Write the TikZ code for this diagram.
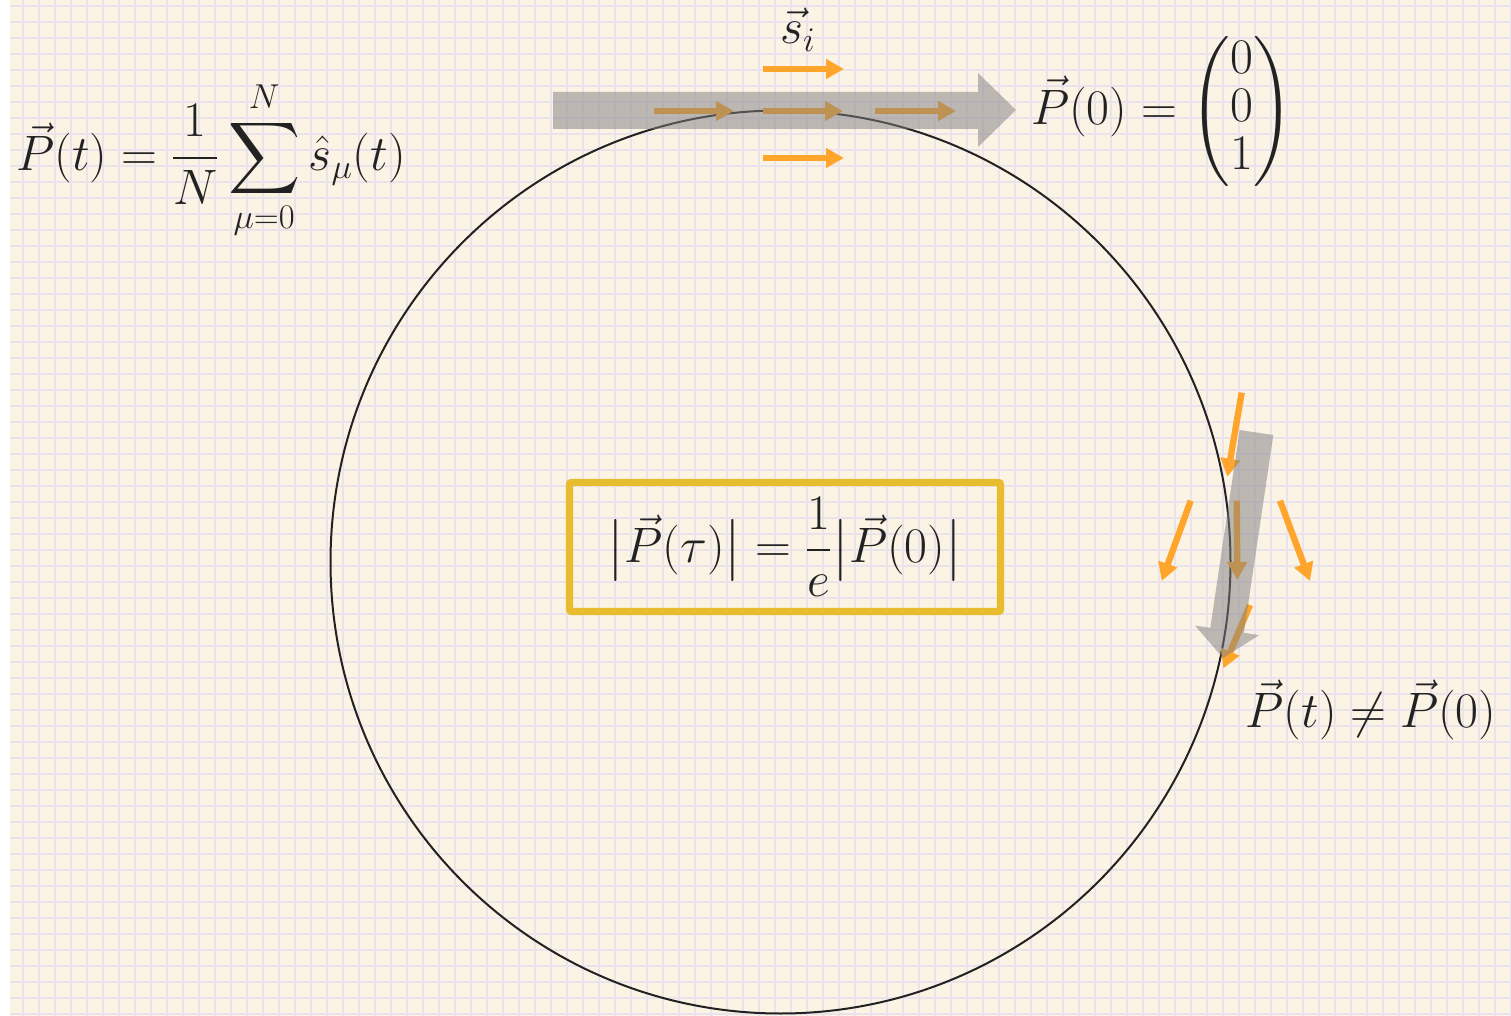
\documentclass[tikz,border=0pt]{standalone}
\usepackage{amsmath,amssymb}
\usepackage{xcolor}
\usepackage{tikz}
\usetikzlibrary{arrows.meta}
\definecolor{paper}{HTML}{FBF3E4}
\definecolor{gridline}{HTML}{EAE3EC}
\definecolor{ink}{HTML}{222222}
\definecolor{spin}{HTML}{FFA52C}
\definecolor{shade}{HTML}{7F7F7F}
\definecolor{boxline}{HTML}{E8BC2F}
\tikzset{
  spinvec/.style={-{Triangle[length=9pt,width=9.5pt]},line width=3.2pt,color=spin},
  bulk/.style={fill=shade,fill opacity=.5},
  orbit/.style={draw=ink,line width=1pt},
  formula/.style={font=\fontsize{25}{30}\selectfont,text=ink,inner sep=0pt},
  resultbox/.style={formula,draw=boxline,line width=3.6pt,rounded corners=1pt,
    minimum width=215.5pt,minimum height=64.5pt},
}

\begin{document}
\begin{tikzpicture}[x=0.5pt,y=-0.5pt]
  \useasboundingbox (0,0) rectangle (1511,1016);
  % squared paper
  \fill[white] (0,0) rectangle (1511,1016);
  \fill[paper] (10,0) rectangle (1511,1016);
  \foreach \k in {0,...,93}
    \draw[gridline,line width=.85pt] (23+16*\k,0) -- (23+16*\k,1016);
  \foreach \k in {0,...,63}
    \draw[gridline,line width=.85pt] (10,6+16*\k) -- (1511,6+16*\k);

  % orbit of the polarisation
  \draw[orbit] (780.5,562) ellipse [x radius=450, y radius=451.5];

  % aligned spins at t=0
  \foreach \y/\xa/\xb in {69/763/844, 111/654/734, 111/763/843, 111/875/956, 158/763/844}
    \draw[spinvec] (\xa,\y) -- (\xb,\y);
  % dephased spins at t
  \foreach \xa/\ya/\xb/\yb in {1241.7/392.7/1227.3/476.7, 1190.7/500.7/1161.7/581,
      1236.7/500.7/1237.3/580, 1280/500.7/1310/581, 1250/605/1223.3/668.3}
    \draw[spinvec] (\xa,\ya) -- (\xb,\yb);

  % net polarisation
  \fill[bulk] (553,92) -- (978,92) -- (978,73) -- (1016,110) -- (978,147)
    -- (978,129) -- (553,129) -- cycle;
  \begin{scope}[shift={(1256.5,432.5)},rotate=-98.45]
    \fill[bulk] (0,-17) -- (200,-17) -- (200,-32.5) -- (228,0) -- (200,32.5)
      -- (200,17) -- (0,17) -- cycle;
  \end{scope}

  \node[formula] (spinlabel) at (798,30) {$\vec{s}_i$};
  \node[formula] (polsum) at (211,160)
    {$\displaystyle \vec{P}(t)=\frac{1}{N}\sum_{\mu=0}^{N}\hat{s}_\mu(t)$};
  \node[formula] (pzero) at (1162,112)
    {\renewcommand{\arraystretch}{0.8}$\vec{P}(0)=\begin{pmatrix}0\\0\\1\end{pmatrix}$};
  \node[formula] (pneq) at (1371,710) {$\vec{P}(t)\neq\vec{P}(0)$};
  \node[resultbox] (decay) at (785,547)
    {$\bigl|\vec{P}(\tau)\bigr|=\dfrac{1}{e}\bigl|\vec{P}(0)\bigr|$};
\end{tikzpicture}
\end{document}
